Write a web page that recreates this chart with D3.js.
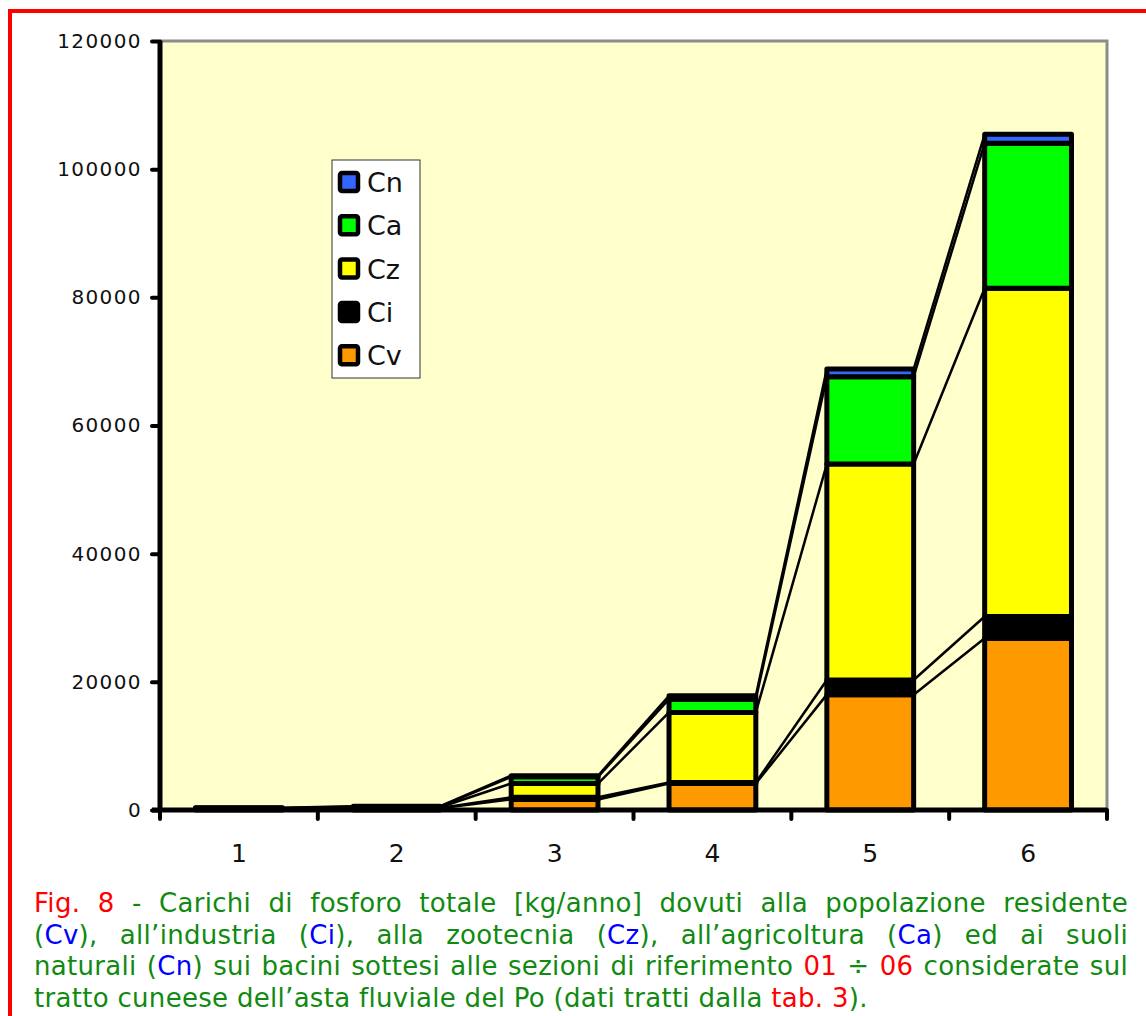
<!DOCTYPE html>
<html>
<head>
<meta charset="utf-8">
<script src="https://cdn.jsdelivr.net/npm/d3@7"></script>
<style>
  body { margin: 0; background: #fff; }
  #wrap { position: relative; width: 1146px; height: 1016px; overflow: hidden; }
  #caption { position: absolute; left: 34px; top: 888px; width: 1094px;
             font-family: "DejaVu Sans", Verdana, sans-serif; font-size: 26px;
             letter-spacing: 0.3px; color: #108a10; }
  #caption div { height: 31.5px; line-height: 31.5px; white-space: nowrap; text-align: justify; text-align-last: justify; }
  #caption div.last { text-align-last: left; }
  .r { color: #ff0000; }
  .b { color: #0000ff; }
</style>
</head>
<body>
<div id="wrap"></div>
<script>
// dati (kg/anno)
var sezioni = ["1", "2", "3", "4", "5", "6"];
var serie = ["Cv", "Ci", "Cz", "Ca", "Cn"];
var Cv = [170, 290, 1650, 4130, 18000, 26800];
var Ci = [20, 30, 330, 160, 2280, 3390];
var Cz = [60, 110, 2150, 10930, 33700, 51230];
var Ca = [50, 90, 1040, 2080, 13640, 22630];
var Cn = [50, 80, 180, 530, 1190, 1400];
var yTicks = [0, 20000, 40000, 60000, 80000, 100000, 120000];
var colori = {Cv: "#ff9900", Ci: "#000000", Cz: "#ffff00", Ca: "#00ff00", Cn: "#3366ff"};

var valori = {Cv: Cv, Ci: Ci, Cz: Cz, Ca: Ca, Cn: Cn};
var rows = sezioni.map(function(s, i){
    var r = {sez: s};
    serie.forEach(function(k){ r[k] = valori[k][i]; });
    return r;
});

var W = 1146, H = 1016;
var pL = 160, pR = 1107, pT = 41, pB = 810;

var svg = d3.select("#wrap").append("svg").attr("width", W).attr("height", H)
    .style("position", "absolute").style("left", 0).style("top", 0);

// cornice rossa
svg.append("rect").attr("x", 10).attr("y", 11).attr("width", 1300).attr("height", 1200)
    .attr("fill", "none").attr("stroke", "#ff0000").attr("stroke-width", 4);

var x = d3.scaleBand().domain(sezioni).range([pL, pR]).padding(0);
var y = d3.scaleLinear().domain([0, 120000]).range([pB, pT]);
var barW = x.bandwidth() * 0.55;
var barX = function(s){ return x(s) + (x.bandwidth() - barW) / 2; };

// area del grafico
svg.append("rect").attr("x", pL).attr("y", pT).attr("width", pR - pL).attr("height", pB - pT)
    .attr("fill", "#ffffcc");
svg.append("path").attr("d", "M" + pL + "," + pT + "H" + pR + "V" + pB)
    .attr("fill", "none").attr("stroke", "#8c8c8c").attr("stroke-width", 3);

var stacked = d3.stack().keys(serie)(rows);

// linee di serie tra le barre
var lines = [];
stacked.forEach(function(layer){
    for (var i = 0; i < layer.length - 1; i++) {
        lines.push({x1: barX(sezioni[i]) + barW, y1: y(layer[i][1]),
                    x2: barX(sezioni[i + 1]), y2: y(layer[i + 1][1])});
    }
});
svg.append("g").selectAll("line").data(lines).enter().append("line")
    .attr("x1", function(d){ return d.x1; }).attr("y1", function(d){ return d.y1; })
    .attr("x2", function(d){ return d.x2; }).attr("y2", function(d){ return d.y2; })
    .attr("stroke", "#000").attr("stroke-width", 2.5);

// barre in pila
svg.append("g").selectAll("g").data(stacked).enter().append("g")
    .attr("fill", function(d){ return colori[d.key]; })
    .selectAll("rect").data(function(d){ return d; }).enter().append("rect")
    .attr("x", function(d){ return barX(d.data.sez); })
    .attr("y", function(d){ return y(d[1]); })
    .attr("width", barW)
    .attr("height", function(d){ return y(d[0]) - y(d[1]); })
    .attr("stroke", "#000").attr("stroke-width", 5).attr("stroke-linejoin", "round");

// asse y
var yAxis = svg.append("g").attr("transform", "translate(" + pL + ",0)")
    .call(d3.axisLeft(y).tickValues(yTicks).tickFormat(d3.format("d")).tickSize(8).tickPadding(10));
yAxis.select(".domain").attr("stroke", "#000").attr("stroke-width", 5).attr("d", "M0," + pT + "V" + (pB + 2));
yAxis.selectAll(".tick line").attr("stroke-width", 4).attr("stroke-linecap", "round");
yAxis.selectAll("text").attr("font-family", "DejaVu Sans, Verdana, sans-serif")
    .attr("font-size", 20).attr("letter-spacing", 1.4).attr("fill", "#111");

// asse x
var xAxis = svg.append("g").attr("transform", "translate(0," + pB + ")")
    .call(d3.axisBottom(x).tickSize(0).tickPadding(34));
xAxis.select(".domain").attr("stroke", "#000").attr("stroke-width", 5).attr("d", "M" + (pL - 8) + ",0H" + pR);
xAxis.selectAll("text").attr("font-family", "DejaVu Sans, Verdana, sans-serif")
    .attr("font-size", 25).attr("fill", "#111");
var bordi = sezioni.map(function(s){ return x(s); }).concat([pR]);
xAxis.selectAll(".bordo").data(bordi).enter().append("line").attr("class", "bordo")
    .attr("x1", function(d){ return d; }).attr("x2", function(d){ return d; })
    .attr("y1", 0).attr("y2", 9)
    .attr("stroke", "#000").attr("stroke-width", 4).attr("stroke-linecap", "round");

// legenda
var leg = svg.append("g").attr("transform", "translate(332,160)");
leg.append("rect").attr("width", 88).attr("height", 218).attr("fill", "#fff")
    .attr("stroke", "#333").attr("stroke-width", 1);
var legItems = leg.selectAll(".item").data(serie.slice().reverse()).enter().append("g")
    .attr("class", "item")
    .attr("transform", function(d, i){ return "translate(0," + (22 + i * 43.3) + ")"; });
legItems.append("rect").attr("x", 8).attr("y", -9).attr("width", 18).attr("height", 18)
    .attr("rx", 2)
    .attr("fill", function(d){ return colori[d]; })
    .attr("stroke", "#000").attr("stroke-width", 4.5);
legItems.append("text").attr("x", 35).attr("y", 10)
    .attr("font-family", "DejaVu Sans, Verdana, sans-serif").attr("font-size", 27)
    .attr("fill", "#111")
    .text(function(d){ return d; });

// didascalia
var righe = [
  '<span class="r">Fig. 8</span> - Carichi di fosforo totale [kg/anno] dovuti alla popolazione residente',
  '(<span class="b">Cv</span>), all\u2019industria (<span class="b">Ci</span>), alla zootecnia (<span class="b">Cz</span>), all\u2019agricoltura (<span class="b">Ca</span>) ed ai suoli',
  'naturali (<span class="b">Cn</span>) sui bacini sottesi alle sezioni di riferimento <span class="r">01</span> \u00f7 <span class="r">06</span> considerate sul',
  'tratto cuneese dell\u2019asta fluviale del Po (dati tratti dalla <span class="r">tab. 3</span>).'
];
d3.select("#wrap").append("div").attr("id", "caption")
  .selectAll("div").data(righe).enter().append("div")
  .attr("class", function(d, i){ return i === righe.length - 1 ? "last" : null; })
  .html(function(d){ return d; });
</script>
</body>
</html>
